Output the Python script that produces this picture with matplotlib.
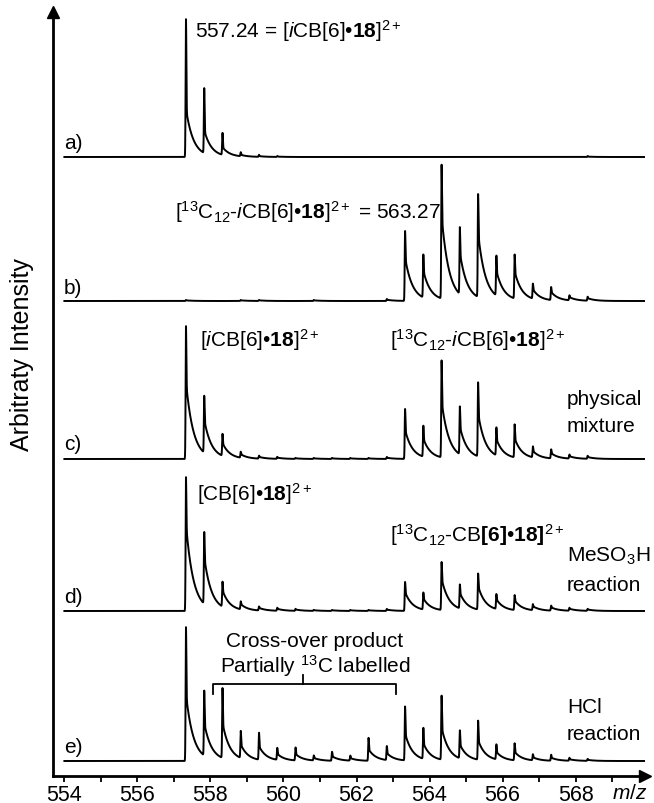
import numpy as np
import matplotlib
matplotlib.use("Agg")
import matplotlib.pyplot as plt

plt.rcParams['font.family'] = ['Liberation Sans', 'DejaVu Sans']
plt.rcParams['mathtext.fontset'] = 'custom'
plt.rcParams['mathtext.rm'] = 'Liberation Sans'
plt.rcParams['mathtext.it'] = 'Liberation Sans:italic'
plt.rcParams['mathtext.bf'] = 'Liberation Sans:bold'

# ---------------- data ----------------
peak_mz = [557.33, 557.83, 558.33, 558.83, 559.33, 559.83, 560.33, 560.83,
           561.33, 561.83, 562.33, 562.83, 563.33, 563.83, 564.33, 564.83,
           565.33, 565.83, 566.33, 566.83, 567.33, 567.83, 568.33]

int_a = [138, 65, 22, 4, 2, 1, 0, 0, 0, 0, 0, 0,
         0, 0, 0, 0, 0, 0, 0, 0, 0, 0, 1]
int_b = [1, 0, 0, 1, 1, 0, 0, 1, 0, 0, 0, 2,
         70, 43, 134, 67, 103, 40, 44, 15, 13, 5, 4]
int_c = [133, 57, 22, 6, 3, 2, 1, 1, 1, 1, 1, 2,
         50, 31, 97, 48, 74, 28, 33, 11, 9, 4, 3]
int_d = [134, 72, 25, 8, 4, 3, 2, 1, 1, 1, 1, 2,
         29, 17, 48, 24, 36, 15, 15, 6, 5, 3, 2]
int_e = [134, 65, 70, 27, 27, 12, 13, 5, 9, 5, 23, 14,
         54, 31, 64, 28, 39, 15, 17, 6, 6, 3, 2]

spectra = [int_a, int_b, int_c, int_d, int_e]
panel_labels = ["a)", "b)", "c)", "d)", "e)"]

x_ticks_major = [554, 556, 558, 560, 562, 564, 566, 568]
x_ticks_minor = [555, 557, 559, 561, 563, 565, 567, 569]

# ---------------- layout ----------------
W, H = 654, 804
fig = plt.figure(figsize=(W / 100, H / 100), dpi=100)
ax_l, ax_r, ax_t, ax_b = 52.7, 645, 13, 777
ax = fig.add_axes([ax_l / W, 1 - ax_b / H, (ax_r - ax_l) / W, (ax_b - ax_t) / H])
ax.set_xlim(553.68, 569.90)
ax.set_ylim(0, ax_b - ax_t)
baselines = [619, 475, 317, 165, 15]     # vertical offset of each trace
tail_frac = [0.35, 0.62, 0.58, 0.65, 0.5]  # peak-tailing style per trace


def trace(mz_grid, centers, heights, tail):
    y = np.zeros_like(mz_grid)
    for c, h in zip(centers, heights):
        if h <= 0:
            continue
        d = mz_grid - c
        left = np.exp(-0.5 * (d / 0.010) ** 2)
        right = (1 - tail) * np.exp(-(d / 0.014) ** 2) + tail * np.exp(-np.clip(d, 0, None) / 0.2)
        y += h * np.where(d < 0, left, right)
    return y


grid = np.linspace(554.0, 569.9, 8000)
for vals, off, tf in zip(spectra, baselines, tail_frac):
    ax.plot(grid, off + trace(grid, peak_mz, vals, tf), color='black', lw=1.4,
            solid_joinstyle='round')

# axes styling
for s in ['top', 'right']:
    ax.spines[s].set_visible(False)
for s in ['left', 'bottom']:
    ax.spines[s].set_linewidth(2.0)
ax.set_yticks([])
ax.set_xticks(x_ticks_major)
ax.set_xticks(x_ticks_minor, minor=True)
ax.tick_params(axis='x', which='both', direction='out', length=4.5, width=1.3,
               labelsize=15.5, pad=1)
ax.plot([1], [0], marker='>', ms=9, color='black', transform=ax.transAxes, clip_on=False)
ax.plot([0], [1], marker='^', ms=9, color='black', transform=ax.transAxes, clip_on=False)


def ftxt(x, y, s, **kw):
    kw.setdefault('fontsize', 15)
    kw.setdefault('ha', 'left')
    kw.setdefault('va', 'baseline')
    fig.text(x / W, 1 - y / H, s, **kw)


ftxt(612, 799, r"$\mathit{m/z}$", ha='left')

ftxt(22, 355, "Arbitraty Intensity", rotation=90, ha='center', va='center', fontsize=18)

for lab, yb in zip(panel_labels, [149, 294, 450, 603, 753]):
    ftxt(64, yb, lab)

ftxt(195, 38, r"557.24 = [$\mathit{i}$CB[6]•$\mathbf{18}$]$^{2+}$")
ftxt(175, 219, r"[$^{13}$C$_{12}$-$\mathit{i}$CB[6]•$\mathbf{18}$]$^{2+}$ = 563.27")
ftxt(200, 347, r"[$\mathit{i}$CB[6]•$\mathbf{18}$]$^{2+}$")
ftxt(390, 347, r"[$^{13}$C$_{12}$-$\mathit{i}$CB[6]•$\mathbf{18}$]$^{2+}$")
ftxt(567, 405, "physical")
ftxt(567, 432, "mixture")
ftxt(197, 501, r"[CB[6]•$\mathbf{18}$]$^{2+}$")
ftxt(390, 542, r"[$^{13}$C$_{12}$-CB$\mathbf{[6]}$•$\mathbf{18]}$$^{2+}$")
ftxt(567, 562, r"MeSO$_3$H")
ftxt(567, 591, "reaction")
ftxt(315, 647, "Cross-over product", ha='center')
ftxt(315, 673, r"Partially $^{13}$C labelled", ha='center')
ftxt(567, 713, "HCl")
ftxt(567, 740, "reaction")

# bracket for cross-over product
bx0, bx1, bxc = 558.07, 563.08, 560.53
ax.plot([bx0, bx0, bx1, bx1], [82, 92, 92, 82], color='black', lw=1.3)
ax.plot([bxc, bxc], [92, 101], color='black', lw=1.3)

fig.savefig("out.png", dpi=100)
